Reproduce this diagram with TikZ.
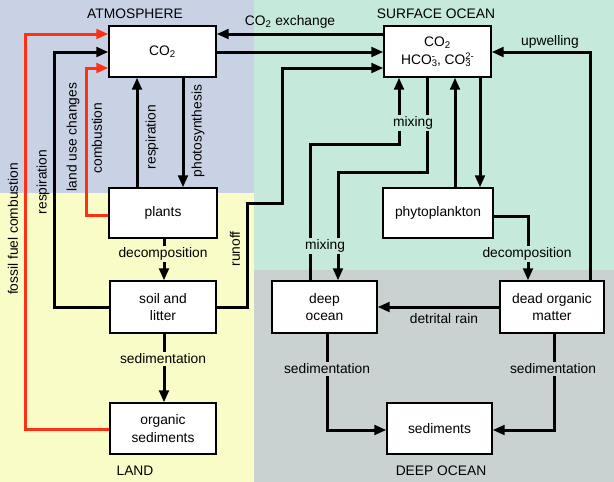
\documentclass[tikz,border=0pt]{standalone}
\usepackage{fontspec}
\setmainfont{Liberation Sans}
\usetikzlibrary{arrows.meta}
\definecolor{atmc}{HTML}{C9D1E5}
\definecolor{landc}{HTML}{FAFCC8}
\definecolor{surfc}{HTML}{C5E9DB}
\definecolor{deepc}{HTML}{C9D1D1}
\definecolor{firec}{HTML}{FF3014}
\newcommand\lblfont{\fontsize{13.8}{17.5}\selectfont}
\newcommand\ionsc[2]{{\fontsize{9.5}{9.5}\selectfont\ooalign{\raisebox{-0.5ex}{#1}\cr\raisebox{1.0ex}{#2}\cr}}}
\begin{document}
\begin{tikzpicture}[x=1pt,y=-1pt,
  box/.style={draw=black,line width=1.2pt,fill=white,inner sep=0pt,align=center,font=\lblfont},
  flow/.style={line width=3pt,-{Triangle[length=12pt,width=9.5pt]}},
  fireflow/.style={line width=3pt,draw=firec,-{Triangle[length=12pt,width=9.5pt]},color=firec},
  lbl/.style={font=\lblfont,inner sep=1.5pt},
  rlbl/.style={font=\lblfont,inner sep=1.5pt,rotate=90},
  region/.style={font=\lblfont}
]
\useasboundingbox (0,0) rectangle (614,482);
% backgrounds
\fill[atmc] (0,0) rectangle (254,193);
\fill[landc] (0,193) rectangle (254,482);
\fill[surfc] (254,0) rectangle (614,270);
\fill[deepc] (254,270) rectangle (614,482);

% boxes
\node[box,minimum width=107pt,minimum height=51pt] (aco2) at (162.5,51.5) {CO\textsubscript{2}};
\node[box,minimum width=108pt,minimum height=50pt] (plants) at (163,213) {plants};
\node[box,minimum width=106pt,minimum height=52pt] (soil) at (163,307) {soil and\\litter};
\node[box,minimum width=106pt,minimum height=51pt] (orgsed) at (163,428.5) {organic\\sediments};
\node[box,minimum width=107pt,minimum height=51pt] (oco2) at (437.5,51.5) {CO\textsubscript{2}\\HCO\ionsc{3}{-}, CO\ionsc{3}{2-}};
\node[box,minimum width=110pt,minimum height=50pt] (phyto) at (438,213) {phytoplankton};
\node[box,minimum width=105pt,minimum height=52pt] (deep) at (324.5,307) {deep\\ocean};
\node[box,minimum width=104pt,minimum height=52pt] (dead) at (552,307) {dead organic\\matter};
\node[box,minimum width=105pt,minimum height=51pt] (sed) at (439.5,428.5) {sediments};

% region titles
\node[region] (tatm) at (135,14) {ATMOSPHERE};
\node[region] (tsurf) at (436,14) {SURFACE OCEAN};
\node[region] (tland) at (135,471) {LAND};
\node[region] (tdeep) at (441,471) {DEEP OCEAN};

% atmosphere / land connectors
\draw[flow] (oco2.west |- 0,34) -- (aco2.east |- 0,34);
\draw[flow] (aco2.east |- 0,52) -- (oco2.west |- 0,52);
\draw[flow] (soil.east |- 0,307) -- (247,307) -- (247,203) -- (282,203) -- (282,68) -- (oco2.west |- 0,68);
\draw[flow] (aco2.south -| 183,0) -- (plants.north -| 183,0);
\draw[flow] (plants.north -| 137,0) -- (aco2.south -| 137,0);
\draw[fireflow] (plants.west |- 0,215) -- (86,215) -- (86,68) -- (aco2.west |- 0,68);
\draw[flow] (soil.west |- 0,307) -- (54,307) -- (54,52) -- (aco2.west |- 0,52);
\draw[fireflow] (orgsed.west |- 0,429) -- (25,429) -- (25,34) -- (aco2.west |- 0,34);
\draw[flow] (plants.south -| 164,0) -- (soil.north -| 164,0);
\draw[flow] (soil.south -| 164,0) -- (orgsed.north -| 164,0);

% ocean connectors
\draw[flow] (dead.north -| 590,0) -- (590,52) -- (oco2.east |- 0,52);
\draw[flow] (deep.north -| 310,0) -- (310,144) -- (399,144) -- (oco2.south -| 399,0);
\draw[flow] (oco2.south -| 427,0) -- (427,172) -- (338,172) -- (deep.north -| 338,0);
\draw[flow] (oco2.south -| 480,0) -- (phyto.north -| 480,0);
\draw[flow] (phyto.north -| 455,0) -- (oco2.south -| 455,0);
\draw[flow] (phyto.east |- 0,216) -- (528,216) -- (dead.north -| 528,0);
\draw[flow] (dead.west |- 0,307) -- (deep.east |- 0,307);
\draw[flow] (deep.south -| 327,0) -- (327,430) -- (sed.west |- 0,430);
\draw[flow] (dead.south -| 554,0) -- (554,430) -- (sed.east |- 0,430);

% labels
\node[lbl] (lexch) at (290,22) {CO\textsubscript{2} exchange};
\node[lbl] (lupw) at (550,42) {upwelling};
\node[rlbl] (lresp1) at (152,137) {respiration};
\node[rlbl] (lphoto) at (198,131) {photosynthesis};
\node[rlbl] (lcomb) at (97,138) {combustion};
\node[rlbl] (lluc) at (73,137) {land use changes};
\node[rlbl] (lresp2) at (43,182) {respiration};
\node[rlbl] (lfossil) at (13,229) {fossil fuel combustion};
\node[rlbl] (lrunoff) at (235,249) {runoff};
\node[lbl,fill=landc] (ldec1) at (163,254) {decomposition};
\node[lbl,fill=landc] (lsed1) at (163,359) {sedimentation};
\node[lbl,fill=surfc] (lmix1) at (413,123) {mixing};
\node[lbl,fill=surfc] (lmix2) at (325,246) {mixing};
\node[lbl,fill=surfc] (ldec2) at (527,254) {decomposition};
\node[lbl] (ldet) at (444,319) {detrital rain};
\node[lbl,fill=deepc] (lsed2) at (327,369) {sedimentation};
\node[lbl,fill=deepc] (lsed3) at (553,369) {sedimentation};
\end{tikzpicture}
\end{document}
